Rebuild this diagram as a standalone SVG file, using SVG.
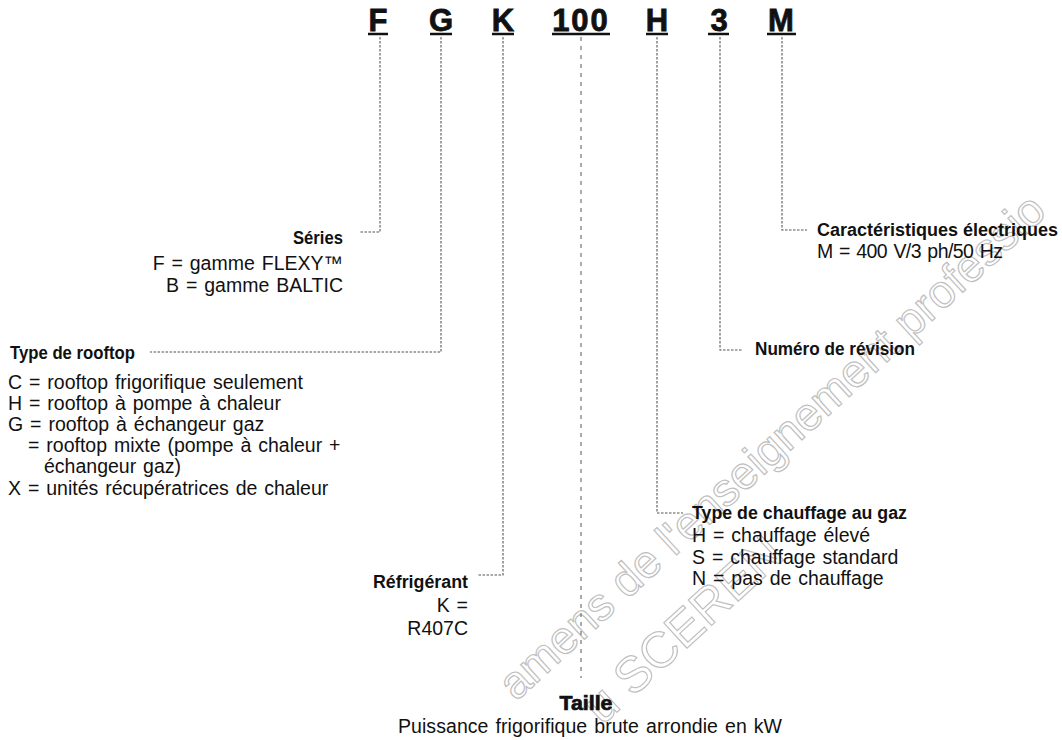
<svg xmlns="http://www.w3.org/2000/svg" width="1062" height="740" viewBox="0 0 1062 740">
<defs>
<style>
.bg{fill:#ffffff}
.wm{font-family:"Liberation Sans",Arial,sans-serif;fill:none;stroke:#c0c0c0;stroke-width:1.2}
.code{font-family:"Liberation Sans",Arial,sans-serif;font-size:31px;font-weight:bold;fill:#111;stroke:#111;stroke-width:0.8;text-anchor:middle}
.ul{stroke:#111;stroke-width:2.5}
.hd{font-family:"Liberation Sans",Arial,sans-serif;font-size:18px;font-weight:bold;fill:#111}
.tx{font-family:"Liberation Sans",Arial,sans-serif;font-size:19.5px;fill:#111;word-spacing:1.5px}
.big{font-family:"Liberation Sans",Arial,sans-serif;font-size:20px;font-weight:bold;fill:#111;stroke:#111;stroke-width:0.7}
.cn{fill:none;stroke:#555;stroke-width:1.1;stroke-dasharray:2.5 1.5}
.cn2{fill:none;stroke:#666;stroke-width:1.1;stroke-dasharray:4 5}
.end{text-anchor:end}
.mid{text-anchor:middle}
</style>
</defs>
<rect class="bg" x="0" y="0" width="1062" height="740"/>
<g id="watermark">
<text class="wm" font-size="46" transform="translate(516,702) rotate(-42.5)">amens de l'enseignement professio</text>
<text class="wm" font-size="50" transform="translate(602,726) rotate(-42.5)">u SCEREN</text>
</g>
<g id="code">
<text class="code" x="378" y="31">F</text>
<text class="code" x="441" y="31">G</text>
<text class="code" x="503" y="31">K</text>
<text class="code" x="581" y="31" letter-spacing="2">100</text>
<text class="code" x="657" y="31">H</text>
<text class="code" x="719" y="31">3</text>
<text class="code" x="781" y="31">M</text>
<line class="ul" x1="368" y1="34" x2="388" y2="34"/>
<line class="ul" x1="430" y1="34" x2="452" y2="34"/>
<line class="ul" x1="492" y1="34" x2="514" y2="34"/>
<line class="ul" x1="552" y1="34" x2="610" y2="34"/>
<line class="ul" x1="646" y1="34" x2="668" y2="34"/>
<line class="ul" x1="708" y1="34" x2="729" y2="34"/>
<line class="ul" x1="767" y1="34" x2="796" y2="34"/>
</g>
<g id="connectors">
<polyline class="cn" points="380,37 380,232 360,232"/>
<polyline class="cn" points="441,37 441,352 150,352"/>
<polyline class="cn" points="503,37 503,575 478,575"/>
<polyline class="cn2" points="581,37 581,678"/>
<polyline class="cn" points="657,37 657,513 683,513"/>
<polyline class="cn" points="720,37 720,350 743,350"/>
<polyline class="cn" points="782,37 782,230 807,230"/>
</g>
<g id="series">
<text class="hd end" x="343" y="244" textLength="50" lengthAdjust="spacingAndGlyphs">Séries</text>
<text class="tx end" x="343" y="270">F = gamme FLEXY™</text>
<text class="tx end" x="343" y="292">B = gamme BALTIC</text>
</g>
<g id="type-rooftop">
<text class="hd" x="10" y="359" textLength="125" lengthAdjust="spacingAndGlyphs">Type de rooftop</text>
<text class="tx" x="8" y="389">C = rooftop frigorifique seulement</text>
<text class="tx" x="8" y="410">H = rooftop à pompe à chaleur</text>
<text class="tx" x="8" y="431">G = rooftop à échangeur gaz</text>
<text class="tx" x="28" y="452">= rooftop mixte (pompe à chaleur +</text>
<text class="tx" x="44" y="473">échangeur gaz)</text>
<text class="tx" x="8" y="495">X =  unités récupératrices de chaleur</text>
</g>
<g id="refrigerant">
<text class="hd end" x="468" y="588" textLength="95" lengthAdjust="spacingAndGlyphs">Réfrigérant</text>
<text class="tx end" x="468" y="612">K =</text>
<text class="tx end" x="468" y="635">R407C</text>
</g>
<g id="taille">
<text class="big mid" x="586" y="710" textLength="53" lengthAdjust="spacingAndGlyphs">Taille</text>
<text class="tx mid" x="590" y="733" textLength="384" lengthAdjust="spacing">Puissance frigorifique brute arrondie en kW</text>
</g>
<g id="chauffage">
<text class="hd" x="692" y="519" textLength="215" lengthAdjust="spacingAndGlyphs">Type de chauffage au gaz</text>
<text class="tx" x="692" y="542" word-spacing="4">H = chauffage élevé</text>
<text class="tx" x="692" y="564">S = chauffage standard</text>
<text class="tx" x="692" y="585">N = pas de chauffage</text>
</g>
<g id="revision">
<text class="hd" x="755" y="355" textLength="160" lengthAdjust="spacingAndGlyphs">Numéro de révision</text>
</g>
<g id="electrique">
<text class="hd" x="817" y="236" textLength="241" lengthAdjust="spacingAndGlyphs">Caractéristiques électriques</text>
<text class="tx" x="817" y="258" word-spacing="0" textLength="186" lengthAdjust="spacing">M = 400 V/3 ph/50 Hz</text>
</g>
</svg>
